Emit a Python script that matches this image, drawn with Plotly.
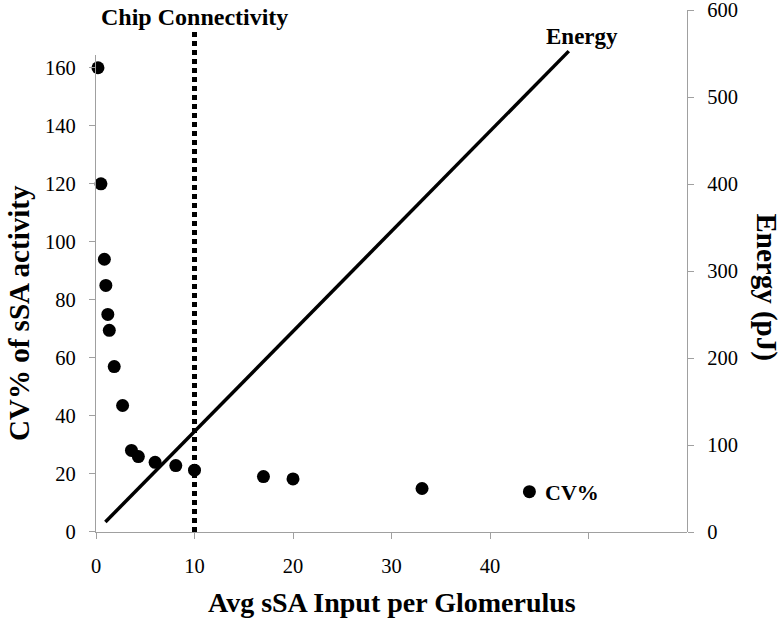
import plotly.graph_objects as go

# ---- data ----
cv_x = [0.2, 0.5, 0.85, 1.0, 1.2, 1.35, 1.85, 2.7, 3.6, 4.3, 6.0, 8.1, 10.0, 17.0, 20.0, 33.1, 44.0]
cv_y = [160, 120, 94, 85, 75, 69.5, 57, 43.6, 28.1, 26, 24, 22.9, 21.3, 19.1, 18.3, 15.0, 13.9]
energy_x = [0.95, 48.0]
energy_y = [11.5, 553]
chip_x = [10, 10]
chip_y = [0, 578]

x_ticks = [0, 10, 20, 30, 40, 50]
x_ticktext = ["0", "10", "20", "30", "40", ""]
y_ticks = [0, 20, 40, 60, 80, 100, 120, 140, 160]
y2_ticks = [0, 100, 200, 300, 400, 500, 600]

FONT = "Liberation Serif"
GRAY = "#a0a0a0"

fig = go.Figure()
fig.add_trace(go.Scatter(x=chip_x, y=chip_y, mode="lines", xaxis="x", yaxis="y2",
                         line=dict(color="black", width=5, dash="5px,4px"), name="Chip"))
fig.add_trace(go.Scatter(x=energy_x, y=energy_y, mode="lines", xaxis="x", yaxis="y2",
                         line=dict(color="black", width=3.5), name="Energy"))
fig.add_trace(go.Scatter(x=cv_x, y=cv_y, mode="markers", xaxis="x", yaxis="y",
                         marker=dict(color="black", size=13), name="CV%", cliponaxis=False))

axis_common = dict(showgrid=False, zeroline=False, showline=True, linecolor=GRAY, linewidth=1.3,
                   ticks="outside", ticklen=6, tickcolor=GRAY, tickwidth=1.3, automargin=False,
                   ticklabeloverflow="allow",
                   tickfont=dict(size=20.5, family=FONT, color="black"))

fig.update_layout(
    width=782, height=628,
    margin=dict(l=96, r=95, t=10, b=96, autoexpand=False),
    paper_bgcolor="white", plot_bgcolor="rgba(0,0,0,0)",
    showlegend=False,
    font=dict(family=FONT, color="black", size=20),
    xaxis=dict(range=[0, 60], tickvals=x_ticks, ticktext=x_ticktext, anchor="y",
               ticklabelstandoff=9, **axis_common),
    yaxis=dict(range=[0, 164.4], domain=[0, 0.9138], tickvals=y_ticks, anchor="x",
               ticklabelstandoff=9, **axis_common),
    yaxis2=dict(range=[0, 600.3], domain=[0, 1], side="right", anchor="x",
                tickvals=y2_ticks, ticklabelstandoff=9, **axis_common),
)

bold = dict(family=FONT, color="black")
fig.add_annotation(text="<b>Avg sSA Input per Glomerulus</b>", xref="paper", yref="paper",
                   x=0.5, y=-0.135, xanchor="center", yanchor="middle", showarrow=False,
                   font=dict(size=28, **bold))
fig.add_annotation(text="<b>CV% of sSA activity</b>", xref="paper", yref="paper",
                   x=-0.13, y=0.42, xanchor="center", yanchor="middle", showarrow=False,
                   textangle=-90, font=dict(size=29, **bold))
fig.add_annotation(text="<b>Energy (pJ)</b>", xref="paper", yref="paper",
                   x=1.134, y=0.47, xanchor="center", yanchor="middle", showarrow=False,
                   textangle=90, font=dict(size=29, **bold))
fig.add_annotation(text="<b>Chip Connectivity</b>", xref="x", yref="paper",
                   x=10, y=0.9866, xanchor="center", yanchor="middle", showarrow=False,
                   font=dict(size=24, **bold))
fig.add_annotation(text="<b>Energy</b>", xref="paper", yref="paper",
                   x=0.822, y=0.950, xanchor="center", yanchor="middle", showarrow=False,
                   font=dict(size=23, **bold))
fig.add_annotation(text="<b>CV%</b>", xref="paper", yref="paper",
                   x=0.757, y=0.076, xanchor="left", yanchor="middle", showarrow=False,
                   font=dict(size=22, **bold))

fig.write_html("out.html", config={"displayModeBar": False},
               post_script="document.body.style.margin='0px';")
